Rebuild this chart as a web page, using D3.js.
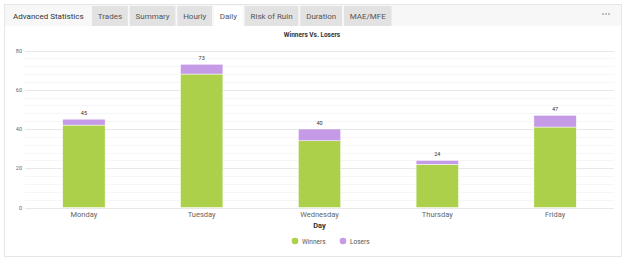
<!DOCTYPE html>
<html>
<head>
<meta charset="utf-8">
<script src="https://cdn.jsdelivr.net/npm/d3@7"></script>
<style>
  body { margin: 0; background: #fff; font-family: Roboto, "Noto Sans", sans-serif; }
  svg text { font-family: Roboto, "Noto Sans", sans-serif; }
</style>
</head>
<body>
<script>
// data
const days = ["Monday", "Tuesday", "Wednesday", "Thursday", "Friday"];
const winners = [42, 68, 34, 22, 41];
const losers = [3, 5, 6, 2, 6];
const tabs = ["Trades", "Summary", "Hourly", "Daily", "Risk of Ruin", "Duration", "MAE/MFE"];
const yTicks = [0, 20, 40, 60, 80];

const W = 625, H = 260;
const svg = d3.select("body").append("svg")
    .attr("width", W)
    .attr("height", H);

// card
svg.append("rect")
    .attr("x", 4.5).attr("y", 4.5)
    .attr("width", 617).attr("height", 252)
    .attr("fill", "#fff")
    .attr("stroke", "#e6e6e6");

// header strip
svg.append("rect")
    .attr("x", 5).attr("y", 5)
    .attr("width", 616).attr("height", 21)
    .attr("fill", "#f7f7f7");

svg.append("text")
    .attr("x", 13).attr("y", 19)
    .attr("font-size", 8)
    .attr("fill", "#333")
    .text("Advanced Statistics");

// tabs, widths from text length
const tabG = svg.append("g");
let tx = 92;
tabs.forEach(t => {
    const g = tabG.append("g");
    const label = g.append("text")
        .attr("y", 19)
        .attr("font-size", 8)
        .attr("fill", "#555")
        .text(t);
    const tw = label.node().getComputedTextLength();
    const w = tw + 11.5;
    g.insert("rect", "text")
        .attr("x", tx).attr("y", 6)
        .attr("width", w).attr("height", 20)
        .attr("fill", t === "Daily" ? "#fff" : "#e2e2e2");
    label.attr("x", tx + 5.75);
    tx += w + 2;
});

// dots menu
[603, 606, 609].forEach(cx => {
    svg.append("circle")
        .attr("cx", cx).attr("cy", 14)
        .attr("r", 1)
        .attr("fill", "#aaa");
});

// chart title
svg.append("text")
    .attr("x", 312).attr("y", 37)
    .attr("text-anchor", "middle")
    .attr("font-size", 6.5)
    .attr("font-weight", "bold")
    .attr("fill", "#333")
    .text("Winners Vs. Losers");

// scales
const x = d3.scaleBand()
    .domain(days)
    .range([25, 614])
    .paddingInner(0.64)
    .paddingOuter(0.32);

const y = d3.scaleLinear()
    .domain([0, 80])
    .range([207.5, 50.5]);

// minor grid
svg.append("g")
    .selectAll("line")
    .data(d3.range(0, 81, 4).filter(v => v % 20 !== 0))
    .join("line")
    .attr("x1", 25).attr("x2", 614)
    .attr("y1", d => Math.round(y(d)) + 0.5)
    .attr("y2", d => Math.round(y(d)) + 0.5)
    .attr("stroke", "#f6f6f6");

// major grid
svg.append("g")
    .selectAll("line")
    .data(yTicks)
    .join("line")
    .attr("x1", 25).attr("x2", 614)
    .attr("y1", d => Math.round(y(d)) + 0.5)
    .attr("y2", d => Math.round(y(d)) + 0.5)
    .attr("stroke", "#e8e8e8");

// y labels
svg.append("g")
    .selectAll("text")
    .data(yTicks)
    .join("text")
    .attr("x", 22)
    .attr("y", d => y(d) + 2)
    .attr("text-anchor", "end")
    .attr("font-size", 5.5)
    .attr("fill", "#666")
    .text(d => d);

// stacked bars
const stack = days.map((d, i) => ({ day: d, w: winners[i], l: losers[i] }));

const bars = svg.append("g");
bars.selectAll("rect.win")
    .data(stack)
    .join("rect")
    .attr("class", "win")
    .attr("x", d => x(d.day))
    .attr("y", d => y(d.w))
    .attr("width", x.bandwidth())
    .attr("height", d => y(0) - y(d.w))
    .attr("fill", "#add04b")
    .attr("stroke", "#fff")
    .attr("stroke-width", 0.5);

bars.selectAll("rect.lose")
    .data(stack)
    .join("rect")
    .attr("class", "lose")
    .attr("x", d => x(d.day))
    .attr("y", d => y(d.w + d.l))
    .attr("width", x.bandwidth())
    .attr("height", d => y(d.w) - y(d.w + d.l))
    .attr("fill", "#c59ae6")
    .attr("stroke", "#fff")
    .attr("stroke-width", 0.5);

// totals
svg.append("g")
    .selectAll("text")
    .data(stack)
    .join("text")
    .attr("x", d => x(d.day) + x.bandwidth() / 2)
    .attr("y", d => y(d.w + d.l) - 4)
    .attr("text-anchor", "middle")
    .attr("font-size", 5.5)
    .attr("fill", "#333")
    .text(d => d.w + d.l);

// x labels
svg.append("g")
    .selectAll("text")
    .data(days)
    .join("text")
    .attr("x", d => x(d) + x.bandwidth() / 2)
    .attr("y", 217)
    .attr("text-anchor", "middle")
    .attr("font-size", 7.5)
    .attr("fill", "#666")
    .text(d => d);

svg.append("text")
    .attr("x", 319.5).attr("y", 228)
    .attr("text-anchor", "middle")
    .attr("font-size", 7.5)
    .attr("font-weight", "bold")
    .attr("fill", "#333")
    .text("Day");

// legend
const legend = [
    { name: "Winners", color: "#add04b", x: 295 },
    { name: "Losers", color: "#c59ae6", x: 343 }
];
const lg = svg.append("g")
    .selectAll("g")
    .data(legend)
    .join("g");
lg.append("circle")
    .attr("cx", d => d.x).attr("cy", 241)
    .attr("r", 3.3)
    .attr("fill", d => d.color);
lg.append("text")
    .attr("x", d => d.x + 7).attr("y", 243.5)
    .attr("font-size", 6.5)
    .attr("fill", "#555")
    .text(d => d.name);
</script>
</body>
</html>
